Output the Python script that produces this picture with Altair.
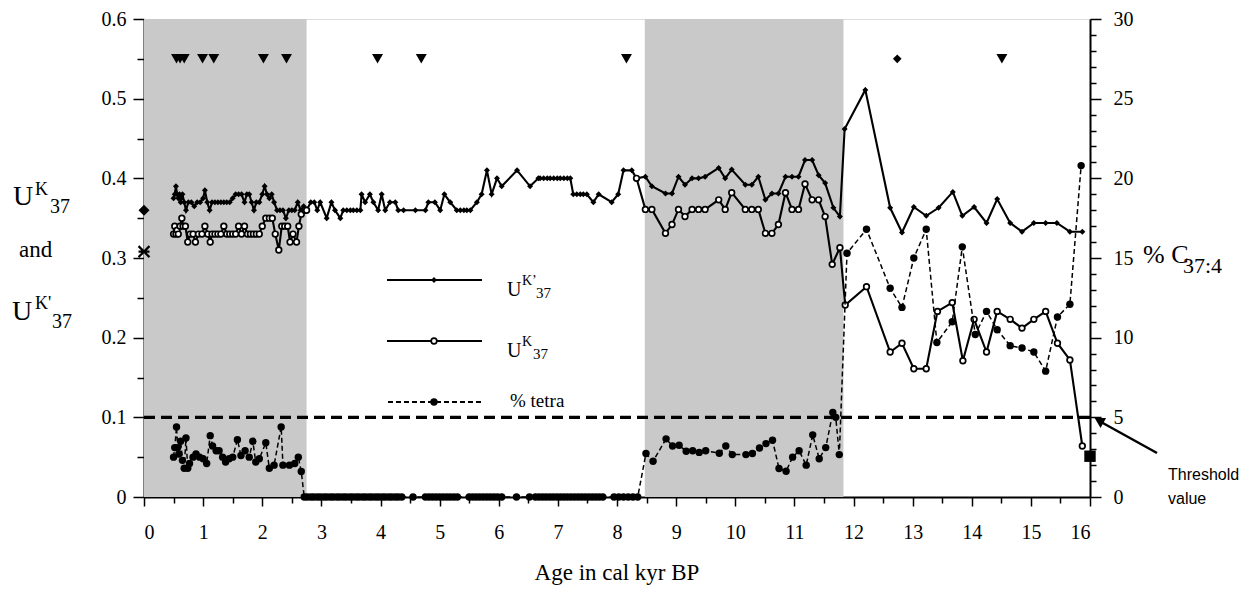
import altair as alt
import pandas as pd

# ---------------- data ----------------
shade_start = [0.0, 8.47]
shade_end = [2.75, 11.83]

# U K'37 (filled diamonds, solid line)
ukp_age = [0.50, 0.52, 0.54, 0.56, 0.58, 0.60, 0.62, 0.65, 0.68, 0.71, 0.75, 0.80, 0.85, 0.90, 0.95,
           1.00, 1.03, 1.07, 1.11, 1.15, 1.20, 1.25, 1.30, 1.35, 1.40, 1.45, 1.50, 1.55, 1.60, 1.65,
           1.70, 1.74, 1.78, 1.82, 1.86, 1.90, 1.95, 2.00, 2.04, 2.08, 2.12, 2.16, 2.20, 2.25, 2.30,
           2.35, 2.40, 2.45, 2.50, 2.55, 2.60, 2.65, 2.70, 2.75, 2.82, 2.88, 2.93, 2.98, 3.09, 3.17,
           3.23, 3.32, 3.37, 3.43, 3.49, 3.54, 3.60, 3.66, 3.68, 3.74, 3.82, 3.88, 3.96, 4.02, 4.08,
           4.16, 4.25, 4.30, 4.39, 4.59, 4.76, 4.81, 4.92, 5.01, 5.08, 5.18, 5.29, 5.35, 5.41, 5.46,
           5.52, 5.63, 5.71, 5.80, 5.88, 5.97, 6.05, 6.31, 6.53, 6.67, 6.70, 6.76, 6.82, 6.87, 6.93,
           6.99, 7.04, 7.10, 7.16, 7.21, 7.26, 7.32, 7.38, 7.43, 7.49, 7.60, 7.69, 7.91, 8.02, 8.11,
           8.25, 8.33, 8.48, 8.59, 8.82, 8.93, 9.04, 9.15, 9.27, 9.38, 9.49, 9.72, 9.83, 9.94, 10.17,
           10.28, 10.39, 10.51, 10.62, 10.73, 10.85, 10.96, 11.07, 11.18, 11.30, 11.41, 11.52, 11.66,
           11.77, 11.85, 12.20, 12.62, 12.82, 13.02, 13.23, 13.44, 13.68, 13.84, 14.04, 14.25, 14.43,
           14.65, 14.85, 15.05, 15.25, 15.44, 15.66, 15.87]
ukp_val = [0.375, 0.38, 0.39, 0.38, 0.375, 0.38, 0.37, 0.38, 0.37, 0.36, 0.37, 0.37, 0.365, 0.37, 0.37,
           0.375, 0.385, 0.37, 0.36, 0.37, 0.37, 0.37, 0.37, 0.37, 0.37, 0.37, 0.375, 0.38, 0.38, 0.38,
           0.37, 0.38, 0.38, 0.37, 0.36, 0.37, 0.37, 0.38, 0.39, 0.38, 0.375, 0.38, 0.37, 0.36, 0.36,
           0.36, 0.35, 0.36, 0.36, 0.36, 0.37, 0.36, 0.365, 0.36, 0.37, 0.37, 0.36, 0.37, 0.35, 0.37,
           0.36, 0.35, 0.36, 0.36, 0.36, 0.36, 0.36, 0.36, 0.38, 0.37, 0.38, 0.37, 0.36, 0.38, 0.36,
           0.37, 0.37, 0.36, 0.36, 0.36, 0.36, 0.37, 0.37, 0.36, 0.38, 0.37, 0.36, 0.36, 0.36, 0.36,
           0.36, 0.37, 0.38, 0.41, 0.38, 0.40, 0.39, 0.41, 0.39, 0.40, 0.40, 0.40, 0.40, 0.40, 0.40,
           0.40, 0.40, 0.40, 0.40, 0.40, 0.38, 0.38, 0.38, 0.38, 0.38, 0.37, 0.38, 0.37, 0.38, 0.41,
           0.41, 0.40, 0.402, 0.39, 0.381, 0.381, 0.402, 0.392, 0.40, 0.40, 0.402, 0.413, 0.40, 0.411, 0.392,
           0.392, 0.402, 0.373, 0.381, 0.381, 0.402, 0.402, 0.402, 0.423, 0.423, 0.404, 0.394, 0.363,
           0.352, 0.462, 0.511, 0.363, 0.332, 0.364, 0.353, 0.363, 0.383, 0.353, 0.364, 0.344, 0.374,
           0.344, 0.333, 0.344, 0.344, 0.344, 0.333, 0.333]

# U K37 (open circles, solid line): early and late segments
uk_early_age = [0.50, 0.52, 0.54, 0.56, 0.58, 0.61, 0.64, 0.66, 0.70, 0.74, 0.78, 0.83, 0.87, 0.92, 0.98,
                1.03, 1.08, 1.12, 1.15, 1.20, 1.25, 1.30, 1.35, 1.40, 1.45, 1.50, 1.55, 1.60, 1.65, 1.70,
                1.75, 1.80, 1.85, 1.90, 1.95, 2.00, 2.06, 2.12, 2.17, 2.22, 2.28, 2.33, 2.38, 2.43, 2.47,
                2.52, 2.58, 2.62, 2.66, 2.72, 2.75]
uk_early_val = [0.33, 0.34, 0.33, 0.335, 0.33, 0.34, 0.35, 0.34, 0.34, 0.32, 0.33, 0.33, 0.32, 0.33, 0.33,
                0.34, 0.33, 0.32, 0.33, 0.33, 0.33, 0.33, 0.34, 0.33, 0.33, 0.33, 0.33, 0.34, 0.33, 0.34,
                0.33, 0.33, 0.33, 0.33, 0.33, 0.34, 0.35, 0.35, 0.35, 0.33, 0.31, 0.34, 0.34, 0.34, 0.32,
                0.33, 0.32, 0.34, 0.355, 0.36, 0.36]
uk_late_age = [8.33, 8.48, 8.59, 8.82, 8.93, 9.04, 9.15, 9.27, 9.38, 9.49, 9.72, 9.83, 9.94, 10.17, 10.28,
               10.39, 10.51, 10.62, 10.73, 10.85, 10.96, 11.07, 11.18, 11.30, 11.41, 11.52, 11.64, 11.77,
               11.86, 12.22, 12.62, 12.82, 13.02, 13.23, 13.42, 13.67, 13.85, 14.04, 14.25, 14.43, 14.65,
               14.85, 15.05, 15.25, 15.45, 15.66, 15.87]
uk_late_val = [0.40, 0.361, 0.361, 0.331, 0.342, 0.361, 0.352, 0.361, 0.361, 0.361, 0.373, 0.361, 0.382,
               0.361, 0.361, 0.361, 0.331, 0.331, 0.342, 0.382, 0.361, 0.361, 0.393, 0.373, 0.373, 0.352,
               0.292, 0.313, 0.241, 0.264, 0.182, 0.193, 0.161, 0.161, 0.233, 0.244, 0.171, 0.223, 0.182,
               0.233, 0.223, 0.212, 0.223, 0.233, 0.193, 0.172, 0.064]

# % tetra (C37:4, right axis)
tetra_age = [0.50, 0.52, 0.55, 0.57, 0.59, 0.62, 0.65, 0.68, 0.71, 0.74, 0.77, 0.83, 0.88, 0.94, 1.00,
             1.06, 1.12, 1.16, 1.22, 1.27, 1.33, 1.38, 1.44, 1.50, 1.58, 1.64, 1.71, 1.78, 1.84, 1.89,
             1.95, 2.06, 2.12, 2.20, 2.32, 2.35, 2.46, 2.55, 2.61, 2.66, 2.71,
             2.76, 2.82, 2.87, 2.93, 2.98, 3.04, 3.09, 3.15, 3.20, 3.26, 3.31, 3.37, 3.42, 3.48, 3.53,
             3.59, 3.64, 3.70, 3.75, 3.81, 3.86, 3.92, 3.97, 4.03, 4.08, 4.14, 4.19, 4.25, 4.30, 4.36,
             4.55, 4.76, 4.82, 4.88, 4.94, 5.00, 5.06, 5.12, 5.18, 5.24, 5.30, 5.50, 5.56, 5.62, 5.68,
             5.74, 5.80, 5.86, 5.92, 5.98, 6.05, 6.30, 6.52, 6.62, 6.68, 6.74, 6.80, 6.86, 6.92, 6.98,
             7.04, 7.10, 7.16, 7.22, 7.28, 7.34, 7.40, 7.46, 7.52, 7.58, 7.64, 7.70, 7.76, 7.95, 8.03,
             8.11, 8.19, 8.27, 8.35,
             8.49, 8.61, 8.83, 8.94, 9.05, 9.17, 9.28, 9.39, 9.50, 9.73, 9.84, 9.95, 10.18, 10.29, 10.41,
             10.52, 10.63, 10.74, 10.86, 10.97, 11.08, 11.20, 11.31, 11.42, 11.53, 11.65, 11.70, 11.76,
             11.89, 12.22, 12.62, 12.82, 13.02, 13.23, 13.41, 13.67, 13.84, 14.06, 14.25, 14.43, 14.65,
             14.85, 15.05, 15.25, 15.45, 15.66, 15.85]
tetra_pct = [2.5, 3.1, 4.4, 3.1, 2.7, 3.5, 2.3, 1.8, 3.7, 1.8, 2.1, 2.5, 2.7, 2.5, 2.4,
             2.1, 3.85, 3.2, 2.9, 2.9, 2.5, 2.2, 2.4, 2.5, 3.6, 2.6, 2.9, 2.5, 3.5, 2.2,
             2.4, 3.4, 1.8, 2.0, 4.4, 2.0, 2.0, 2.1, 2.5, 1.6, 0.0,
             0, 0, 0, 0, 0, 0, 0, 0, 0, 0, 0, 0, 0, 0, 0,
             0, 0, 0, 0, 0, 0, 0, 0, 0, 0, 0, 0, 0, 0, 0,
             0, 0, 0, 0, 0, 0, 0, 0, 0, 0, 0, 0, 0, 0, 0,
             0, 0, 0, 0, 0, 0, 0, 0, 0, 0, 0, 0, 0, 0, 0,
             0, 0, 0, 0, 0, 0, 0, 0, 0, 0, 0, 0, 0, 0, 0,
             0, 0, 0, 0,
             2.73, 2.24, 3.65, 3.2, 3.25, 2.87, 2.9, 2.8, 2.9, 2.75, 3.2, 2.66, 2.66, 2.73, 3.08,
             3.35, 3.56, 1.79, 1.62, 2.5, 2.9, 2.0, 3.9, 2.4, 3.1, 5.3, 5.0, 2.66,
             15.3, 16.8, 13.1, 11.9, 15.0, 16.8, 9.7, 11.0, 15.7, 10.2, 11.65, 10.5, 9.5,
             9.35, 9.1, 7.9, 11.3, 12.1, 20.8]

threshold_pct = 5.0
square_age = [16.0]
square_pct = [2.56]

tri_age = [0.55, 0.61, 0.68, 0.99, 1.18, 2.02, 2.41, 3.95, 4.69, 8.16, 14.51]
tri_level = [0.55] * len(tri_age)
top_diamond_age = [12.74]
top_diamond_level = [0.55]

edge_diamond_age = [0.0]
edge_diamond_val = [0.36]
edge_star_age = [0.0]
edge_star_val = [0.308]

x_ticks = [0, 0.5, 1, 1.5, 2, 2.5, 3, 3.5, 4, 4.5, 5, 5.5, 6, 6.5, 7, 7.5, 8, 8.5, 9, 9.5,
           10, 10.5, 11, 11.5, 12, 12.5, 13, 13.5, 14, 14.5, 15, 15.5, 16]
yl_ticks = [0, 0.05, 0.1, 0.15, 0.2, 0.25, 0.3, 0.35, 0.4, 0.45, 0.5, 0.55, 0.6]
yr_ticks = [0, 1, 2, 3, 4, 5, 6, 7, 8, 9, 10, 11, 12, 13, 14, 15, 16, 17, 18, 19, 20,
            21, 22, 23, 24, 25, 26, 27, 28, 29, 30]

# ---------------- frames ----------------
df_shade = pd.DataFrame({"s": shade_start, "e": shade_end})
df_ukp = pd.DataFrame({"age": ukp_age, "val": ukp_val})
df_uk = pd.concat([
    pd.DataFrame({"age": uk_early_age, "val": uk_early_val, "seg": "a"}),
    pd.DataFrame({"age": uk_late_age, "val": uk_late_val, "seg": "b"}),
], ignore_index=True)
df_tetra = pd.DataFrame({"age": tetra_age, "pct": tetra_pct})
df_thr = pd.DataFrame({"a0": [0.0], "a1": [16.0], "pct": [threshold_pct]})
df_sq = pd.DataFrame({"age": square_age, "pct": square_pct})
df_tri = pd.DataFrame({"age": tri_age, "val": tri_level})
df_tdia = pd.DataFrame({"age": top_diamond_age, "val": top_diamond_level})
df_edia = pd.DataFrame({"age": edge_diamond_age, "val": edge_diamond_val})
df_star = pd.DataFrame({"age": edge_star_age, "val": edge_star_val})

W, H = 946, 478
SERIF = "Liberation Serif, Times New Roman, serif"
SANS = "Liberation Sans, Arial, sans-serif"

xscale = alt.Scale(domain=[0, 16], nice=False, zero=False)
ylscale = alt.Scale(domain=[0, 0.6], nice=False)
yrscale = alt.Scale(domain=[0, 30], nice=False)

x_axis = alt.Axis(
    values=x_ticks, title=None, grid=False,
    labelExpr="datum.value % 1 === 0 ? format(datum.value, 'd') : ''",
    tickSize={"condition": {"test": "datum.value % 1 !== 0", "value": 6}, "value": 9},
    labelPadding=16, labelFont=SERIF, labelFontSize=20, labelColor="black",
    domainColor="black", domainWidth=2, tickColor="black", tickWidth=1.5,
)
yl_axis = alt.Axis(
    values=yl_ticks, title=None, grid=False, orient="left",
    labelExpr="abs(round(datum.value*10) - datum.value*10) < 0.001 ? (datum.value == 0 ? '0' : format(datum.value, '.1f')) : ''",
    tickSize={"condition": {"test": "abs(round(datum.value*10) - datum.value*10) > 0.001", "value": 7}, "value": 11},
    labelPadding=7, labelFont=SERIF, labelFontSize=20, labelColor="black",
    domainColor="black", domainWidth=2, tickColor="black", tickWidth=1.5,
)
yr_axis = alt.Axis(
    values=yr_ticks, title=None, grid=False, orient="right",
    labelExpr="datum.value % 5 === 0 ? format(datum.value, 'd') : ''",
    tickSize={"condition": {"test": "datum.value % 5 !== 0", "value": 6}, "value": 11},
    labelPadding=12, labelFont=SERIF, labelFontSize=20, labelColor="black",
    domainColor="black", domainWidth=2, tickColor="black", tickWidth=1.5,
)

X = lambda f: alt.X(f, type="quantitative", scale=xscale, axis=x_axis)
YL = lambda f: alt.Y(f, type="quantitative", scale=ylscale, axis=yl_axis)
YR = lambda f: alt.Y(f, type="quantitative", scale=yrscale, axis=yr_axis)

one = alt.Data(values=[{"k": 1}])


def txt(s, x, y, size, font=SERIF, align="left"):
    return alt.Chart(one).mark_text(
        text=s, font=font, fontSize=size, align=align, baseline="alphabetic", color="black"
    ).encode(x=alt.value(x), y=alt.value(y))


def hline(x1, x2, y, dash=None):
    kw = {"color": "black", "strokeWidth": 2}
    if dash:
        kw["strokeDash"] = dash
    return alt.Chart(one).mark_rule(**kw).encode(x=alt.value(x1), x2=alt.value(x2), y=alt.value(y))


def pt(x, y, **kw):
    return alt.Chart(one).mark_point(opacity=1, **kw).encode(x=alt.value(x), y=alt.value(y))


# ---------------- left layer ----------------
shade = alt.Chart(df_shade).mark_rect(color="#c9c9c9").encode(
    x=X("s"), x2="e", y=alt.value(0), y2=alt.value(H))

ukp_line = alt.Chart(df_ukp).mark_line(color="black", strokeWidth=2.1).encode(
    x=X("age"), y=YL("val"), order="age:Q")
ukp_pts = alt.Chart(df_ukp).mark_point(shape="diamond", filled=True, color="black", size=36, opacity=1).encode(
    x=X("age"), y=YL("val"))

uk_line = alt.Chart(df_uk).mark_line(color="black", strokeWidth=2.1).encode(
    x=X("age"), y=YL("val"), detail="seg:N", order="age:Q")
uk_pts = alt.Chart(df_uk).mark_point(shape="circle", fill="white", stroke="black", strokeWidth=1.7,
                                     size=32, opacity=1, filled=False).encode(
    x=X("age"), y=YL("val"))

tri = alt.Chart(df_tri).mark_point(shape="triangle-down", filled=True, color="black", size=120, opacity=1).encode(
    x=X("age"), y=YL("val"))
tdia = alt.Chart(df_tdia).mark_point(shape="diamond", filled=True, color="black", size=75, opacity=1).encode(
    x=X("age"), y=YL("val"))
edia = alt.Chart(df_edia).mark_point(shape="diamond", filled=True, color="black", size=120, opacity=1).encode(
    x=X("age"), y=YL("val"))
star = alt.Chart(df_star).mark_point(shape="M-1,-1L1,1M-1,1L1,-1M-1,0L1,0", filled=False, color="black",
                                     strokeWidth=2.2, size=120, opacity=1).encode(
    x=X("age"), y=YL("val"))

# legend (drawn inside the plot)
leg = [
    hline(243, 338, 261), pt(290, 261, shape="diamond", filled=True, color="black", size=36),
    txt("U", 363, 277, 20), txt("K’", 378, 266, 14), txt("37", 392, 279, 15),
    hline(243, 338, 322), pt(290, 322, shape="circle", fill="white", stroke="black", strokeWidth=1.7, size=32),
    txt("U", 363, 338, 20), txt("K", 378, 327, 14), txt("37", 389, 340, 15),
    hline(244, 338, 383, dash=[5, 3]), pt(290, 383, shape="circle", filled=True, color="black", size=55),
    txt("% tetra", 366, 388, 19),
]

# axis titles as text
titles = [
    txt("U", -131, 186, 28), txt("K", -109, 176, 18), txt("37", -94, 194, 20),
    txt("and", -125, 238, 23),
    txt("U", -132, 301, 28), txt("K'", -109, 290, 18), txt("37", -92, 309, 20),
    txt("Age in cal kyr BP", W / 2, 561, 23, align="center"),
    txt("% C", 999, 244, 26), txt("37:4", 1039, 254, 22),
]

left = alt.layer(shade, ukp_line, uk_line, ukp_pts, uk_pts, tri, tdia, edia, star, *leg, *titles)

# ---------------- right layer ----------------
thr = alt.Chart(df_thr).mark_rule(color="black", strokeWidth=3.2, strokeDash=[11, 6]).encode(
    x=X("a0"), x2="a1", y=YR("pct"))
tetra_line = alt.Chart(df_tetra).mark_line(color="black", strokeWidth=1.5, strokeDash=[5, 3]).encode(
    x=X("age"), y=YR("pct"), order="age:Q")
tetra_pts = alt.Chart(df_tetra).mark_circle(color="black", size=55, opacity=1).encode(
    x=X("age"), y=YR("pct"))
sq = alt.Chart(df_sq).mark_point(shape="square", filled=True, color="black", size=130, opacity=1).encode(
    x=X("age"), y=YR("pct"))

arrow = [
    alt.Chart(one).mark_rule(color="black", strokeWidth=2.5).encode(
        x=alt.value(1013), y=alt.value(434), x2=alt.value(957), y2=alt.value(403)),
    pt(955, 401.5, shape="triangle-up", angle=299, filled=True, color="black", size=130),
    txt("Threshold", 1024, 461, 16, font=SANS),
    txt("value", 1024, 485, 16, font=SANS),
]

right = alt.layer(thr, tetra_line, tetra_pts, sq, *arrow)

chart = alt.layer(left, right).resolve_scale(y="independent").properties(
    width=W, height=H,
    padding={"left": 136, "top": 11, "right": 160, "bottom": 89},
    autosize=alt.AutoSizeParams(type="none"),
).configure_view(stroke="black", strokeWidth=2).configure(background="white").configure_axis(
    labelFont=SERIF, labelFontSize=20, labelColor="black"
).configure_text(font=SERIF)

chart.save("out.html", embed_options={"renderer": "svg", "actions": False})
